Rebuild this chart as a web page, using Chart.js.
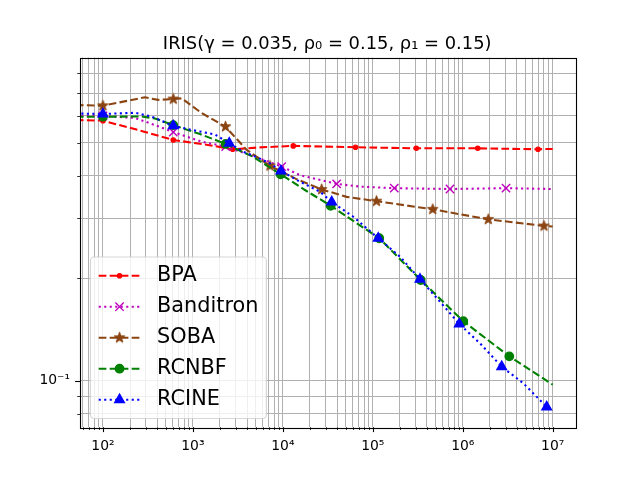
<!DOCTYPE html>
<html>
<head>
<meta charset="utf-8">
<script src="https://cdn.jsdelivr.net/npm/chart.js@4.4.1/dist/chart.umd.min.js"></script>
<style>
  html, body { margin: 0; padding: 0; background: #fff; }
  canvas { display: block; }
</style>
</head>
<body>
<canvas id="irisChart" width="640" height="480"></canvas>
<script>
// Values (log-log axes)
const titleText = "IRIS(γ = 0.035, ρ₀ = 0.15, ρ₁ = 0.15)";
const seriesNames = ["BPA", "Banditron", "SOBA", "RCNBF", "RCINE"];

const bpaX = [50, 100, 250, 605, 1470, 2770, 5570, 13060, 64190, 304300, 1466000, 6864000, 10000000];
const bpaY = [0.584, 0.581, 0.545, 0.510, 0.493, 0.479, 0.485, 0.490, 0.4855, 0.482, 0.482, 0.479, 0.480];
const bpaMarks = [1, 3, 5, 7, 8, 9, 10, 11];

const banditronX = [50, 100, 227, 379, 605, 1251, 2313, 4306, 9700, 15500, 39630, 72000, 173300, 721200, 3025000, 10000000];
const banditronY = [0.600, 0.600, 0.592, 0.564, 0.538, 0.504, 0.4875, 0.461, 0.426, 0.402, 0.379, 0.372, 0.368, 0.366, 0.368, 0.366];
const banditronMarks = [1, 4, 6, 8, 10, 12, 13, 14];

const sobaX = [50, 100, 293, 409, 605, 750, 1251, 2301, 3960, 7192, 14000, 27020, 51240, 109900, 463300, 1923000, 8000000, 10000000];
const sobaY = [0.646, 0.643, 0.681, 0.669, 0.673, 0.676, 0.612, 0.558, 0.477, 0.428, 0.392, 0.365, 0.347, 0.337, 0.319, 0.298, 0.285, 0.284];
const sobaMarks = [1, 4, 7, 9, 11, 13, 14, 15, 16];

const rcnbfX = [50, 100, 269, 379, 605, 1198, 2313, 4691, 9456, 17620, 34020, 63380, 118000, 340700, 1014000, 3292000, 10000000];
const rcnbfY = [0.597, 0.597, 0.598, 0.590, 0.564, 0.531, 0.4965, 0.4546, 0.4043, 0.3635, 0.3268, 0.2926, 0.2622, 0.1977, 0.1495, 0.1179, 0.0973];
const rcnbfMarks = [1, 4, 6, 8, 10, 12, 13, 14, 15];

const rcineX = [50, 100, 227, 350, 605, 968, 1758, 2535, 3631, 4691, 7192, 9530, 15500, 25860, 34900, 60700, 115000, 200400, 335000, 558000, 915000, 1553000, 2710000, 4710000, 8570000, 10000000];
const rcineY = [0.610, 0.608, 0.613, 0.597, 0.561, 0.546, 0.5295, 0.499, 0.471, 0.4585, 0.4355, 0.4136, 0.3846, 0.3594, 0.3353, 0.3034, 0.2622, 0.2315, 0.1987, 0.1707, 0.1468, 0.1288, 0.1099, 0.0983, 0.0837, 0.0824];
const rcineMarks = [1, 4, 7, 11, 14, 16, 18, 20, 22, 24];

const xRange = [55.6, 18150000];
const yRange = [0.07298, 0.8907];

// filled star marker like matplotlib '*'
function starImage(color, rOut) {
  const c = document.createElement("canvas");
  const s = Math.ceil(rOut * 2 + 4);
  c.width = c.height = s;
  const g = c.getContext("2d");
  g.translate(s / 2, s / 2);
  g.beginPath();
  for (let i = 0; i < 10; i++) {
    const r = i % 2 ? rOut * 0.382 : rOut;
    const a = -Math.PI / 2 + i * Math.PI / 5;
    g.lineTo(r * Math.cos(a), r * Math.sin(a));
  }
  g.closePath();
  g.fillStyle = color;
  g.fill();
  g.lineWidth = 1.2;
  g.lineJoin = "round";
  g.strokeStyle = color;
  g.stroke();
  return c;
}

const dashed = [7.7, 3.3];
const dotted = [2.1, 3.4];
const styles = [
  { color: "#ff0000", dash: dashed, pointStyle: "circle", radius: 2.1 },
  { color: "#bf00bf", dash: dotted, pointStyle: "crossRot", radius: 5.9 },
  { color: "#8b4513", dash: dashed, pointStyle: starImage("#8b4513", 5.3), radius: 4.5 },
  { color: "#008000", dash: dashed, pointStyle: "circle", radius: 4.2 },
  { color: "#0000ff", dash: dotted, pointStyle: "triangle", radius: 5.5 },
];

const allX = [bpaX, banditronX, sobaX, rcnbfX, rcineX];
const allY = [bpaY, banditronY, sobaY, rcnbfY, rcineY];
const allMarks = [bpaMarks, banditronMarks, sobaMarks, rcnbfMarks, rcineMarks];

const datasets = seriesNames.map((name, i) => {
  const st = styles[i];
  const marks = allMarks[i];
  return {
    label: name,
    data: allX[i].map((x, j) => ({ x: x, y: allY[i][j] })),
    borderColor: st.color,
    backgroundColor: st.color,
    borderWidth: 2.08,
    borderDash: st.dash,
    pointStyle: st.pointStyle,
    pointRadius: (ctx) => (marks.includes(ctx.dataIndex) ? st.radius : 0),
    pointBorderWidth: 1.4,
    pointBackgroundColor: st.color,
    pointBorderColor: st.color,
    tension: 0,
    fill: false,
    clip: 0,
    order: seriesNames.length - i,
  };
});

const SUP = { "-": "⁻", "0": "⁰", "1": "¹", "2": "²", "3": "³", "4": "⁴", "5": "⁵", "6": "⁶", "7": "⁷", "8": "⁸", "9": "⁹" };
function isDecade(v) {
  const e = Math.round(Math.log10(v));
  return Math.abs(v - Math.pow(10, e)) < 1e-9 * Math.pow(10, e);
}
function decadeLabel(v) {
  if (!isDecade(v)) return "";
  const e = String(Math.round(Math.log10(v)));
  return "10" + e.split("").map((ch) => SUP[ch]).join("");
}
function logTicks(min, max) {
  const out = [];
  for (let e = Math.floor(Math.log10(min)); e <= Math.ceil(Math.log10(max)); e++) {
    for (let k = 1; k <= 9; k++) {
      const v = k * Math.pow(10, e);
      if (v >= min && v <= max) out.push({ value: v, major: k === 1 });
    }
  }
  return out;
}

// frame, tick marks, title, legend
const decorations = {
  id: "decorations",
  afterDraw(chart) {
    const ctx = chart.ctx;
    const a = chart.chartArea;
    ctx.save();
    ctx.strokeStyle = "#000";
    chart.scales.x.ticks.forEach((t) => {
      const px = Math.round(chart.scales.x.getPixelForValue(t.value)) + 0.5;
      const major = isDecade(t.value);
      ctx.lineWidth = major ? 1.1 : 0.8;
      ctx.beginPath();
      ctx.moveTo(px, a.bottom);
      ctx.lineTo(px, a.bottom + (major ? 4.9 : 2.8));
      ctx.stroke();
    });
    chart.scales.y.ticks.forEach((t) => {
      const py = Math.round(chart.scales.y.getPixelForValue(t.value)) + 0.5;
      const major = isDecade(t.value);
      ctx.lineWidth = major ? 1.1 : 0.8;
      ctx.beginPath();
      ctx.moveTo(a.left, py);
      ctx.lineTo(a.left - (major ? 4.9 : 2.8), py);
      ctx.stroke();
    });
    ctx.lineWidth = 1.1;
    ctx.strokeRect(Math.round(a.left) + 0.5, Math.round(a.top) + 0.5,
      Math.round(a.right - a.left), Math.round(a.bottom - a.top));

    ctx.fillStyle = "#000";
    ctx.font = '17.9px "DejaVu Sans"';
    ctx.textAlign = "center";
    ctx.textBaseline = "alphabetic";
    ctx.fillText(titleText, (a.left + a.right) / 2 - 0.8, a.top - 8.6);

    // legend, lower left
    const fs = 20.8;
    const boxX = a.left + 10.4, boxW = 176, boxH = 161.5;
    const boxY = a.bottom - 8.7 - boxH;
    const rr = 4;
    ctx.beginPath();
    ctx.moveTo(boxX + rr, boxY);
    ctx.arcTo(boxX + boxW, boxY, boxX + boxW, boxY + boxH, rr);
    ctx.arcTo(boxX + boxW, boxY + boxH, boxX, boxY + boxH, rr);
    ctx.arcTo(boxX, boxY + boxH, boxX, boxY, rr);
    ctx.arcTo(boxX, boxY, boxX + boxW, boxY, rr);
    ctx.closePath();
    ctx.fillStyle = "rgba(255,255,255,0.8)";
    ctx.fill();
    ctx.strokeStyle = "rgba(204,204,204,0.8)";
    ctx.lineWidth = 1.2;
    ctx.stroke();

    ctx.font = fs + 'px "DejaVu Sans"';
    ctx.textAlign = "left";
    ctx.textBaseline = "middle";
    seriesNames.forEach((name, i) => {
      const st = styles[i];
      const y = boxY + 18.7 + i * 31.0;
      const x0 = boxX + 8.3;
      ctx.setLineDash(st.dash);
      ctx.lineWidth = 2.08;
      ctx.strokeStyle = st.color;
      ctx.beginPath();
      ctx.moveTo(x0, y);
      ctx.lineTo(x0 + 41.7, y);
      ctx.stroke();
      ctx.setLineDash([]);
      ctx.fillStyle = st.color;
      ctx.strokeStyle = st.color;
      ctx.lineWidth = 1.4;
      Chart.helpers.drawPoint(ctx, { pointStyle: st.pointStyle, radius: st.radius, rotation: 0, borderWidth: 1.4 }, x0 + 20.85, y);
      ctx.fillStyle = "#000";
      ctx.fillText(name, x0 + 41.7 + 16.7, y);
    });
    ctx.restore();
  },
};

Chart.defaults.font.family = '"DejaVu Sans"';
Chart.defaults.color = "#000";

const ctx = document.getElementById("irisChart").getContext("2d");
new Chart(ctx, {
  type: "line",
  data: { datasets: datasets },
  options: {
    responsive: false,
    animation: false,
    events: [],
    devicePixelRatio: 1,
    layout: { padding: { left: 0, right: 64, top: 57.6, bottom: 0 } },
    plugins: { legend: { display: false }, title: { display: false }, tooltip: { enabled: false } },
    scales: {
      x: {
        type: "logarithmic",
        min: xRange[0],
        max: xRange[1],
        afterBuildTicks: (scale) => { scale.ticks = logTicks(xRange[0], xRange[1]); },
        afterFit: (scale) => { scale.height = 52.8; },
        border: { display: false },
        grid: { color: "#b0b0b0", lineWidth: 1, drawTicks: false },
        ticks: {
          autoSkip: false,
          maxRotation: 0,
          minRotation: 0,
          padding: 11,
          font: { size: 13.9 },
          color: "#000",
          callback: (v) => decadeLabel(v),
        },
      },
      y: {
        type: "logarithmic",
        min: yRange[0],
        max: yRange[1],
        afterBuildTicks: (scale) => { scale.ticks = logTicks(yRange[0], yRange[1]); },
        afterFit: (scale) => { scale.width = 80; },
        border: { display: false },
        grid: { color: "#b0b0b0", lineWidth: 1, drawTicks: false },
        ticks: {
          autoSkip: false,
          padding: 10,
          font: { size: 13.9 },
          color: "#000",
          callback: (v) => decadeLabel(v),
        },
      },
    },
  },
  plugins: [decorations],
});
</script>
</body>
</html>
